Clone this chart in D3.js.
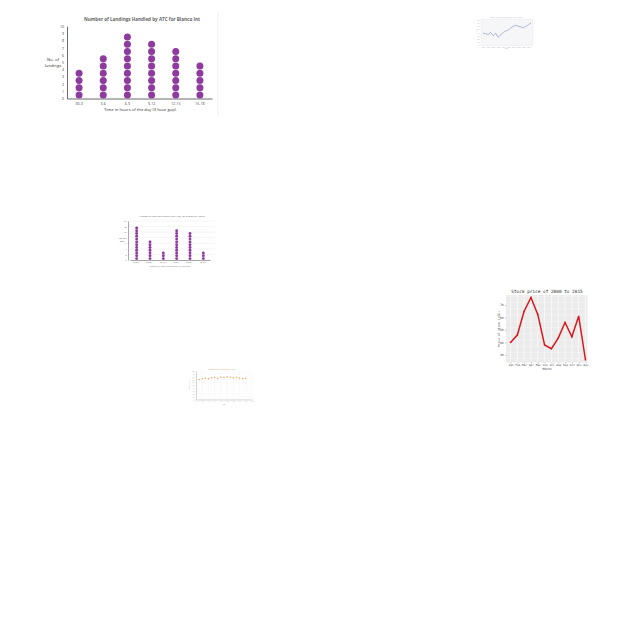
<!DOCTYPE html>
<html><head><meta charset="utf-8">
<script src="https://cdn.jsdelivr.net/npm/d3@7"></script>
<style>body{margin:0;background:#fff}svg{display:block}</style>
</head><body>
<script>
// Chart 1: landings dot plot
const landCats = ["00-3","3-6","6-9","9-12","12-15","15-18"];
const landVals = [4,6,9,8,7,5];
const landTicks = [0,1,2,3,4,5,6,7,8,9,10];
// Chart 2: small line chart
const lineYears = [1996,1997,1998,1999,2000,2001,2002,2003,2004,2005,2006,2007,2008,2009,2010,2011,2012,2013,2014,2015];
const lineVals = [38,36,34,40,30,38,25,32,40,45,48,55,60,63,60,58,55,60,65,70];
// Chart 3: days dot plot
const dayCats = ["11-20 A","21-30 A","31-40 A","41-50 A","51-60 A","61-70 A"];
const dayVals = [12,7,3,11,10,3];
const dayTicks = [0,2,4,6,8,10,12,14];
// Chart 4: stock price
const months = ["Jan","Feb","Mar","Apr","May","Jun","Jul","Aug","Sep","Oct","Nov","Dec"];
const stock = [40,46,65,76,62.5,38,35,43.5,56,44.6,61,26];
const stockTicks = [30,40,50,60,70];
// Chart 5: scatter
const scatX = [1,2,3,4,5,6,7,8,9,10,11,12,13,14,15,16];
const scatY = [70,73,75,73,76,77,75,78,77,79,78,76,77,75,74,75];

const svg = d3.select("body").append("svg").attr("width",640).attr("height",640);

// ---------- Chart 1 ----------
(function(){
  const g = svg.append("g").attr("font-family","'Open Sans', sans-serif");
  const x = d3.scaleBand().domain(landCats).range([67,212]);
  const y = d3.scaleLinear().domain([0,10]).range([98.5,26.2]);
  g.append("line").attr("x1",218).attr("x2",218).attr("y1",12).attr("y2",116).attr("stroke","#eee").attr("stroke-width",0.8);
  g.append("text").attr("x",142).attr("y",21).attr("text-anchor","middle").attr("font-size",4.6).attr("font-weight","bold").attr("fill","#666").text("Number of Landings Handled by ATC for Blanco Int");
  const ya = g.append("g").attr("transform","translate(67,0)").call(d3.axisLeft(y).tickValues(landTicks).tickSize(0).tickPadding(3));
  ya.select(".domain").attr("stroke","#444").attr("stroke-width",0.8);
  ya.selectAll("text").attr("font-size",3.6).attr("fill","#444").attr("font-family","'Open Sans', sans-serif");
  const xa = g.append("g").attr("transform","translate(0,98.5)").call(d3.axisBottom(x).tickSize(0).tickPadding(4));
  xa.select(".domain").attr("stroke","#444").attr("stroke-width",0.8);
  xa.selectAll("text").attr("font-size",3.6).attr("fill","#444").attr("font-family","'Open Sans', sans-serif");
  g.append("text").attr("x",53).attr("y",61).attr("text-anchor","middle").attr("font-size",4.2).attr("fill","#333").text("No. of");
  g.append("text").attr("x",53).attr("y",66.5).attr("text-anchor","middle").attr("font-size",4.2).attr("fill","#333").text("landings");
  g.append("text").attr("x",140).attr("y",111).attr("text-anchor","middle").attr("font-size",4.2).attr("fill","#333").text("Time in hours of the day (3 hour gap)");
  landCats.forEach((c,i)=>{
    g.selectAll(null).data(d3.range(landVals[i])).join("circle")
      .attr("cx",x(c)+x.bandwidth()/2).attr("cy",d=>y(d+0.5)).attr("r",3.5).attr("fill","#8e3a9e");
  });
})();

// ---------- Chart 2 ----------
(function(){
  const g = svg.append("g").attr("font-family","'Open Sans', sans-serif");
  const x = d3.scaleLinear().domain(d3.extent(lineYears)).range([483,531]);
  const y = d3.scaleLinear().domain([0,80]).range([45,20]);
  g.append("rect").attr("x",481).attr("y",19).attr("width",52).attr("height",26.5).attr("fill","#f6f6f8").attr("stroke","#e6e6ea").attr("stroke-width",0.4);
  g.append("text").attr("x",506).attr("y",17.5).attr("text-anchor","middle").attr("font-size",2.2).attr("fill","#bbb").text("Stock price trend over the years");
  const ya = g.append("g").attr("transform","translate(481,0)").call(d3.axisLeft(y).ticks(6).tickSize(0).tickPadding(1.5));
  ya.select(".domain").remove();
  ya.selectAll("text").attr("font-size",1.8).attr("fill","#aaa");
  const xa = g.append("g").attr("transform","translate(0,45.5)").call(d3.axisBottom(x).ticks(10).tickFormat(d3.format("d")).tickSize(0).tickPadding(1.5));
  xa.select(".domain").remove();
  xa.selectAll("text").attr("font-size",1.6).attr("fill","#aaa");
  g.append("text").attr("x",506).attr("y",48.5).attr("text-anchor","middle").attr("font-size",1.8).attr("fill","#aaa").text("Year");
  g.append("text").attr("transform","translate(477,32) rotate(-90)").attr("text-anchor","middle").attr("font-size",1.8).attr("fill","#aaa").text("Price");
  g.append("path").datum(lineVals).attr("fill","none").attr("stroke","#9aa4cc").attr("stroke-width",0.8)
    .attr("d",d3.line().x((d,i)=>x(lineYears[i])).y(d=>y(d)));
})();

// ---------- Chart 3 ----------
(function(){
  const g = svg.append("g").attr("font-family","'Open Sans', sans-serif");
  const x = d3.scaleBand().domain(dayCats).range([130,210]);
  const y = d3.scaleLinear().domain([0,14]).range([260,221]);
  g.append("text").attr("x",172).attr("y",216.5).attr("text-anchor","middle").attr("font-size",2.4).attr("fill","#666").text("Number of days with Rated high (AQI) for Groups of Hotels");
  g.append("g").selectAll("line").data(dayTicks).join("line").attr("x1",128).attr("x2",215).attr("y1",d=>y(d)).attr("y2",d=>y(d)).attr("stroke","#e6e6e6").attr("stroke-width",0.4);
  const ya = g.append("g").attr("transform","translate(128,0)").call(d3.axisLeft(y).tickValues(dayTicks).tickSize(0).tickPadding(1.5));
  ya.select(".domain").attr("stroke","#555").attr("stroke-width",0.5);
  ya.selectAll("text").attr("font-size",2).attr("fill","#666");
  const xa = g.append("g").attr("transform","translate(0,260)").call(d3.axisBottom(x).tickSize(0).tickPadding(2));
  xa.select(".domain").attr("stroke","#555").attr("stroke-width",0.5);
  xa.selectAll("text").attr("font-size",2).attr("fill","#666");
  g.append("text").attr("x",170).attr("y",266.5).attr("text-anchor","middle").attr("font-size",2.2).attr("fill","#777").text("Number of days (Rated high) by category");
  g.append("text").attr("x",122).attr("y",239).attr("text-anchor","middle").attr("font-size",2.2).attr("fill","#555").text("No. of");
  g.append("text").attr("x",122).attr("y",242).attr("text-anchor","middle").attr("font-size",2.2).attr("fill","#555").text("days");
  dayCats.forEach((c,i)=>{
    g.selectAll(null).data(d3.range(dayVals[i])).join("circle")
      .attr("cx",x(c)+x.bandwidth()/2).attr("cy",d=>y(d+0.5)).attr("r",1.45).attr("fill","#8e3a9e");
  });
})();

// ---------- Chart 4 ----------
(function(){
  const g = svg.append("g").attr("font-family","'DejaVu Sans Mono', monospace");
  const x = d3.scalePoint().domain(months).range([510.5,585.5]);
  const y = d3.scaleLinear().domain([30,70]).range([355,305]);
  g.append("rect").attr("x",506).attr("y",295).attr("width",81.5).attr("height",67.5).attr("fill","#ebebeb");
  const yg = d3.range(22,82,5);
  g.append("g").selectAll("line").data(yg).join("line").attr("x1",506).attr("x2",587.5).attr("y1",d=>y(d)).attr("y2",d=>y(d)).attr("stroke","#fff").attr("stroke-width",d=>d%10===0?0.6:0.3)
    .filter(d=>y(d)<295||y(d)>362.5).remove();
  g.append("g").selectAll("line").data(months).join("line").attr("y1",295).attr("y2",362.5).attr("x1",d=>x(d)).attr("x2",d=>x(d)).attr("stroke","#fff").attr("stroke-width",0.6);
  g.append("text").attr("x",547).attr("y",292.5).attr("text-anchor","middle").attr("font-size",4.4).attr("fill","#222").text("Stock price of 2000 to 2015");
  const ya = g.append("g").attr("transform","translate(506,0)").call(d3.axisLeft(y).tickValues(stockTicks).tickSize(1).tickPadding(1.5));
  ya.select(".domain").remove();
  ya.selectAll("line").attr("stroke","#555").attr("stroke-width",0.4);
  ya.selectAll("text").attr("font-size",3).attr("fill","#444").attr("font-family","'DejaVu Sans Mono', monospace");
  const xa = g.append("g").attr("transform","translate(0,362.5)").call(d3.axisBottom(x).tickSize(1).tickPadding(1));
  xa.select(".domain").remove();
  xa.selectAll("line").attr("stroke","#555").attr("stroke-width",0.4);
  xa.selectAll("text").attr("font-size",2.8).attr("fill","#444").attr("font-family","'DejaVu Sans Mono', monospace");
  g.append("text").attr("x",547).attr("y",370).attr("text-anchor","middle").attr("font-size",3).attr("fill","#444").text("Month");
  g.append("text").attr("transform","translate(500,329) rotate(-90)").attr("text-anchor","middle").attr("font-size",3).attr("fill","#444").text("Price of Stock (USD)");
  g.append("path").datum(stock).attr("fill","none").attr("stroke","#d7191c").attr("stroke-width",1.5)
    .attr("d",d3.line().x((d,i)=>x(months[i])).y(d=>y(d)));
  g.selectAll("circle").data(stock).join("circle").attr("cx",(d,i)=>x(months[i])).attr("cy",d=>y(d)).attr("r",0.8).attr("fill","#d7191c");
})();

// ---------- Chart 5 ----------
(function(){
  const g = svg.append("g").attr("font-family","'Open Sans', sans-serif");
  const x = d3.scaleLinear().domain([0,18]).range([196,252]);
  const y = d3.scaleLinear().domain([0,100]).range([399.5,371]);
  g.append("g").selectAll("line").data(d3.range(0,101,10)).join("line").attr("x1",196).attr("x2",252).attr("y1",d=>y(d)).attr("y2",d=>y(d)).attr("stroke","#f0f0f0").attr("stroke-width",0.3);
  g.append("g").selectAll("line").data(d3.range(0,19,2)).join("line").attr("y1",371).attr("y2",399.5).attr("x1",d=>x(d)).attr("x2",d=>x(d)).attr("stroke","#f0f0f0").attr("stroke-width",0.3);
  g.append("text").attr("x",222).attr("y",370).attr("text-anchor","middle").attr("font-size",2).attr("fill","#d9a070").text("Temperature readings by day");
  const ya = g.append("g").attr("transform","translate(196,0)").call(d3.axisLeft(y).ticks(10).tickSize(0).tickPadding(1.5));
  ya.select(".domain").attr("stroke","#999").attr("stroke-width",0.4);
  ya.selectAll("text").attr("font-size",1.6).attr("fill","#aaa");
  const xa = g.append("g").attr("transform","translate(0,399.5)").call(d3.axisBottom(x).ticks(9).tickSize(0).tickPadding(1.5));
  xa.select(".domain").attr("stroke","#999").attr("stroke-width",0.4);
  xa.selectAll("text").attr("font-size",1.6).attr("fill","#aaa");
  g.append("text").attr("x",224).attr("y",404.5).attr("text-anchor","middle").attr("font-size",1.8).attr("fill","#aaa").text("Day");
  g.append("text").attr("transform","translate(190,385) rotate(-90)").attr("text-anchor","middle").attr("font-size",1.8).attr("fill","#aaa").text("Temperature");
  g.selectAll("circle").data(scatX).join("circle").attr("cx",d=>x(d)).attr("cy",(d,i)=>y(scatY[i])).attr("r",0.75).attr("fill","#f0a050");
})();
</script>
</body></html>
